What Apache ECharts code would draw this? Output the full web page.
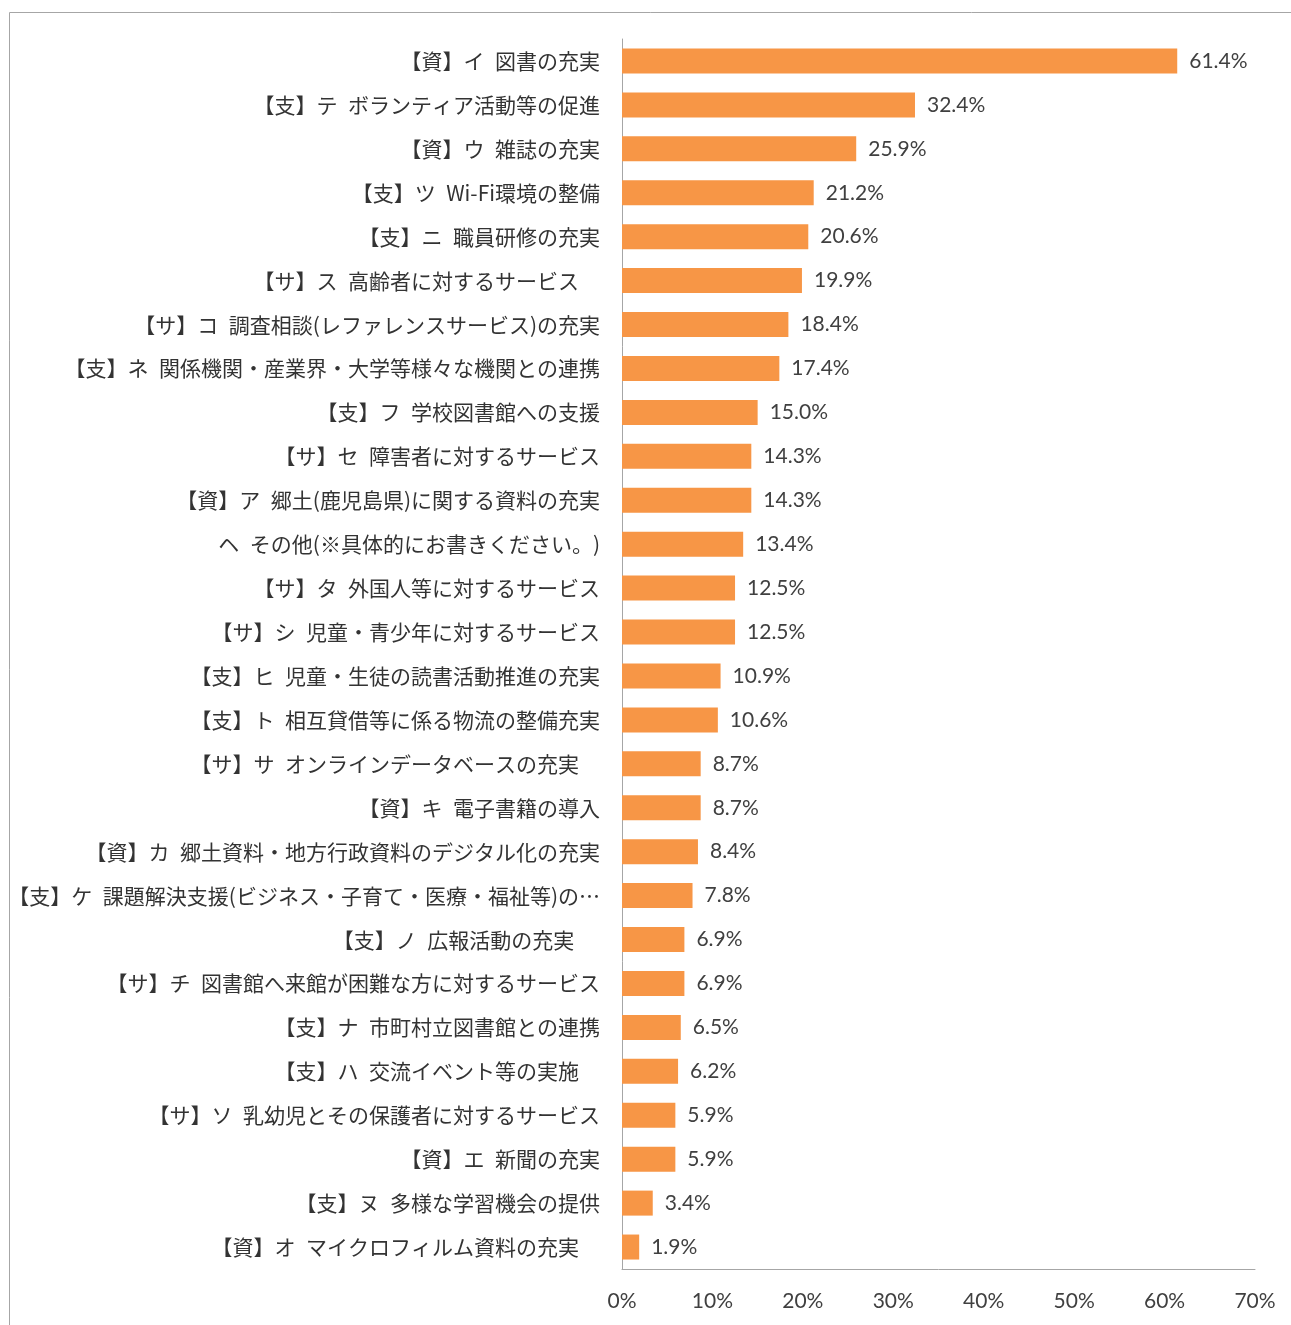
<!DOCTYPE html>
<html>
<head>
<meta charset="utf-8">
<title>chart</title>
<script src="https://cdn.jsdelivr.net/npm/echarts@6/dist/echarts.min.js"></script>
<style>
  html, body { margin: 0; padding: 0; background: #fff; }
  #main { width: 1291px; height: 1325px; }
</style>
</head>
<body>
<div id="main"></div>
<script>
// 項目 (上から順)
var categories = [
  '【資】イ\u2002図書の充実',
  '【支】テ\u2002ボランティア活動等の促進',
  '【資】ウ\u2002雑誌の充実',
  '【支】ツ\u2002Wi-Fi環境の整備',
  '【支】ニ\u2002職員研修の充実',
  '【サ】ス\u2002高齢者に対するサービス　',
  '【サ】コ\u2002調査相談(レファレンスサービス)の充実',
  '【支】ネ\u2002関係機関・産業界・大学等様々な機関との連携',
  '【支】フ\u2002学校図書館への支援',
  '【サ】セ\u2002障害者に対するサービス',
  '【資】ア\u2002郷土(鹿児島県)に関する資料の充実',
  'ヘ\u2002その他(※具体的にお書きください。)',
  '【サ】タ\u2002外国人等に対するサービス',
  '【サ】シ\u2002児童・青少年に対するサービス',
  '【支】ヒ\u2002児童・生徒の読書活動推進の充実',
  '【支】ト\u2002相互貸借等に係る物流の整備充実',
  '【サ】サ\u2002オンラインデータベースの充実　',
  '【資】キ\u2002電子書籍の導入',
  '【資】カ\u2002郷土資料・地方行政資料のデジタル化の充実',
  '【支】ケ\u2002課題解決支援(ビジネス・子育て・医療・福祉等)の…',
  '【支】ノ\u2002広報活動の充実　 ',
  '【サ】チ\u2002図書館へ来館が困難な方に対するサービス',
  '【支】ナ\u2002市町村立図書館との連携',
  '【支】ハ\u2002交流イベント等の実施　',
  '【サ】ソ\u2002乳幼児とその保護者に対するサービス',
  '【資】エ\u2002新聞の充実',
  '【支】ヌ\u2002多様な学習機会の提供',
  '【資】オ\u2002マイクロフィルム資料の充実　'
];

// 割合 (%)
var values = [
  61.4, 32.4, 25.9, 21.2, 20.6, 19.9, 18.4, 17.4, 15.0, 14.3,
  14.3, 13.4, 12.5, 12.5, 10.9, 10.6, 8.7, 8.7, 8.4, 7.8,
  6.9, 6.9, 6.5, 6.2, 5.9, 5.9, 3.4, 1.9
];

// x軸
var axisMin = 0;
var axisMax = 70;
var axisStep = 10;

var myChart = echarts.init(document.getElementById('main'));

myChart.setOption({
  animation: false,
  backgroundColor: '#fff',
  textStyle: {
    fontFamily: '"Noto Sans CJK JP", sans-serif'
  },
  graphic: [{
    type: 'rect',
    shape: { x: 9.5, y: 12.5, width: 1400, height: 1400 },
    style: { fill: 'none', stroke: '#a6a6a6', lineWidth: 1 },
    silent: true
  }],
  grid: {
    left: 622,
    right: 36,
    top: 39,
    bottom: 56,
    outerBoundsMode: 'none'
  },
  xAxis: {
    type: 'value',
    min: axisMin,
    max: axisMax,
    interval: axisStep,
    splitLine: { show: false },
    axisLine: { show: true, lineStyle: { color: '#a6a6a6', width: 1 } },
    axisTick: { show: false },
    axisLabel: {
      margin: 22,
      color: '#404040',
      fontFamily: 'Lato, "Open Sans", sans-serif',
      fontSize: 21,
      formatter: '{value}%'
    }
  },
  yAxis: {
    type: 'category',
    inverse: true,
    data: categories,
    axisLine: { show: true, lineStyle: { color: '#a6a6a6', width: 1 } },
    axisTick: { show: false },
    axisLabel: {
      margin: 22,
      color: '#333',
      fontFamily: '"Noto Sans CJK JP", sans-serif',
      fontSize: 21
    }
  },
  series: [{
    type: 'bar',
    data: values,
    barWidth: 25,
    itemStyle: { color: '#F79646' },
    label: {
      show: true,
      position: 'right',
      distance: 12,
      color: '#404040',
      fontFamily: 'Lato, "Open Sans", sans-serif',
      fontSize: 21,
      formatter: function (p) {
        return p.value.toFixed(1) + '%';
      }
    }
  }]
});
</script>
</body>
</html>
